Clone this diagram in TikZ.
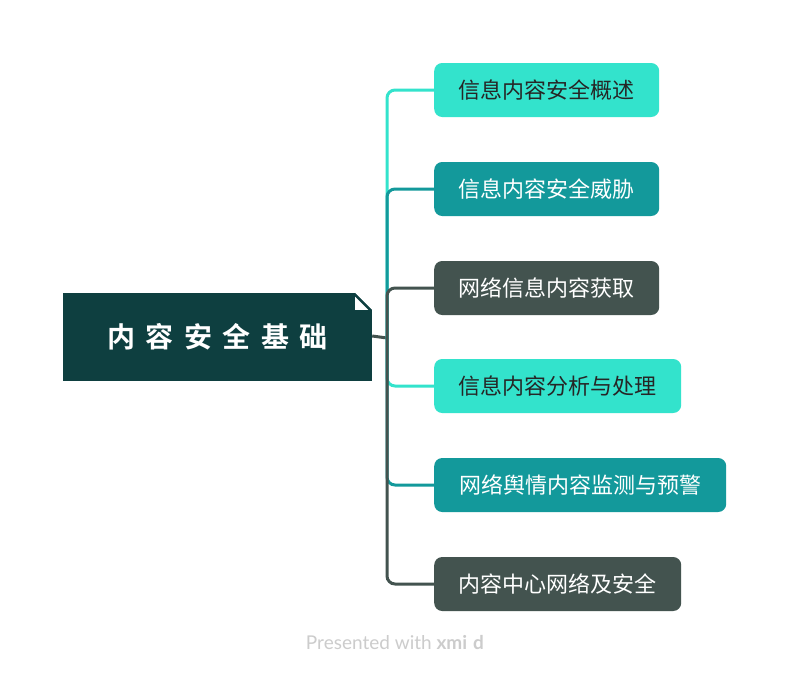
\documentclass[tikz,border=0pt]{standalone}
\usepackage{fontspec}
\setmainfont{Lato}
\newfontfamily\cjk{Noto Sans CJK SC}
\newfontfamily\cjkb{Noto Sans CJK SC Bold}
\definecolor{cLight}{HTML}{33E3CC}
\definecolor{cTeal}{HTML}{13999B}
\definecolor{cDark}{HTML}{43534F}
\definecolor{cRoot}{HTML}{0E3F40}
\definecolor{cFoot}{HTML}{CCCCCC}
\tikzset{
  child/.style={anchor=west, rounded corners=8pt, minimum height=54pt, inner sep=0pt,
    font=\cjk\fontsize{22}{25}\selectfont},
  lightbox/.style={child, fill=cLight, text=black!85},
  tealbox/.style={child, fill=cTeal, text=white},
  darkbox/.style={child, fill=cDark, text=white},
  link/.style={line width=3pt, rounded corners=8pt},
}
\begin{document}
\begin{tikzpicture}[x=1pt,y=-1pt]
\useasboundingbox[fill=white] (0,0) rectangle (790,675);
% root
\node[fill=cRoot, minimum width=309pt, minimum height=88pt, inner sep=0pt,
  text=white, font=\cjkb\fontsize{28}{30}\selectfont] (root) at (217.5,337)
  {内\hspace{10.5pt}容\hspace{10.5pt}安\hspace{10.5pt}全\hspace{10.5pt}基\hspace{10.5pt}础};
\fill[white] ([xshift=-17pt]root.north east) -- (root.north east) -- ([yshift=-17pt]root.north east) -- cycle;
\fill[white] ([xshift=-17pt,yshift=-4pt]root.north east) -- ([xshift=-17pt,yshift=-17pt]root.north east) -- ([xshift=-4pt,yshift=-17pt]root.north east) -- cycle;
% children
\node[lightbox, minimum width=225pt] (c1) at (434,90) {信息内容安全概述};
\node[tealbox,  minimum width=225pt] (c2) at (434,189) {信息内容安全威胁};
\node[darkbox,  minimum width=225pt] (c3) at (434,288) {网络信息内容获取};
\node[lightbox, minimum width=247pt] (c4) at (434,386) {信息内容分析与处理};
\node[tealbox,  minimum width=292pt] (c5) at (434,485) {网络舆情内容监测与预警};
\node[darkbox,  minimum width=247pt] (c6) at (434,584) {内容中心网络及安全};
% connectors
\coordinate (sp) at (387,338);
\draw[link, cDark] ([yshift=1pt]root.east) -- (sp);
\draw[link, cLight] (sp) |- (c1.west);
\draw[link, cTeal]  (sp) |- (c2.west);
\draw[link, cDark]  (sp) |- (c3.west);
\draw[link, cLight] (sp) |- (c4.west);
\draw[link, cTeal]  (sp) |- (c5.west);
\draw[link, cDark]  (sp) |- (c6.west);
% footer
\node[text=cFoot, font=\fontsize{19}{21}\selectfont, anchor=center] (foot) at (395,643)
  {Presented with \textbf{xmi\hspace{6pt}d}};
\end{tikzpicture}
\end{document}
